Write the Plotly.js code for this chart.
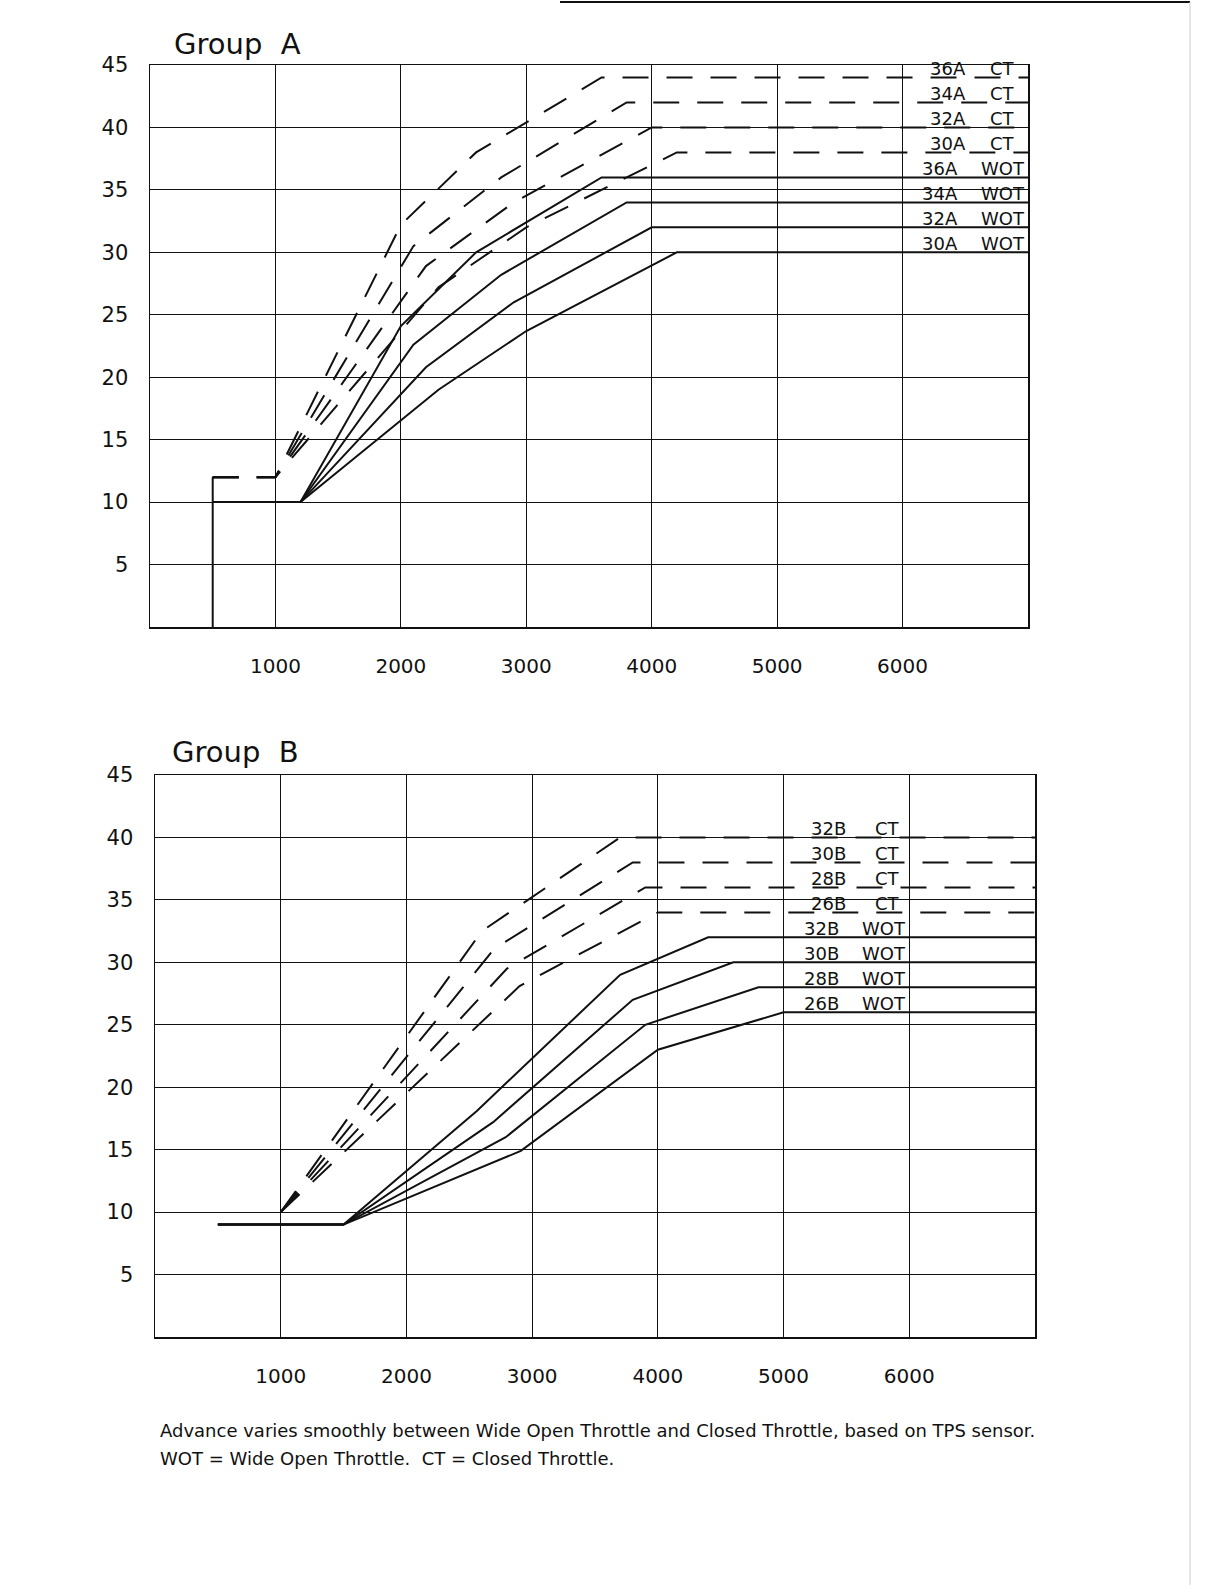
<!DOCTYPE html>
<html>
<head>
<meta charset="utf-8">
<script src="https://cdn.plot.ly/plotly-3.0.1.min.js"></script>
<style>
  html, body { margin: 0; padding: 0; background: #fff; }
  #chart { width: 1225px; height: 1585px; }
</style>
</head>
<body>
<div id="chart"></div>
<script>
  // Spark advance curves (rpm vs degrees).
  // CT = closed throttle (dashed), WOT = wide open throttle (solid).

  // ---- Group A ----
  const baseARpm = [500, 500];
  const baseADeg = [0, 12];

  const a36ctRpm = [500, 1000, 2000, 2600, 3600, 7000];
  const a36ctDeg = [12, 12, 32.2, 38, 44, 44];
  const a34ctRpm = [500, 1000, 2100, 2800, 3800, 7000];
  const a34ctDeg = [12, 12, 30.5, 36, 42, 42];
  const a32ctRpm = [500, 1000, 2200, 2900, 4000, 7000];
  const a32ctDeg = [12, 12, 28.9, 34, 40, 40];
  const a30ctRpm = [500, 1000, 2300, 3000, 4200, 7000];
  const a30ctDeg = [12, 12, 27.2, 32, 38, 38];

  const a36wotRpm = [500, 1200, 2000, 2600, 3600, 7000];
  const a36wotDeg = [10, 10, 24.1, 30, 36, 36];
  const a34wotRpm = [500, 1200, 2100, 2800, 3800, 7000];
  const a34wotDeg = [10, 10, 22.6, 28.2, 34, 34];
  const a32wotRpm = [500, 1200, 2200, 2900, 4000, 7000];
  const a32wotDeg = [10, 10, 20.8, 26, 32, 32];
  const a30wotRpm = [500, 1200, 2300, 3000, 4200, 7000];
  const a30wotDeg = [10, 10, 19, 23.7, 30, 30];

  // ---- Group B ----
  const b32ctRpm = [1000, 2600, 3700, 7000];
  const b32ctDeg = [10, 32.5, 40, 40];
  const b30ctRpm = [1000, 2700, 3800, 7000];
  const b30ctDeg = [10, 31.1, 38, 38];
  const b28ctRpm = [1000, 2800, 3900, 7000];
  const b28ctDeg = [10, 29.5, 36, 36];
  const b26ctRpm = [1000, 2900, 4000, 7000];
  const b26ctDeg = [10, 28.1, 34, 34];

  const b32wotRpm = [500, 1500, 2560, 3700, 4400, 7000];
  const b32wotDeg = [9, 9, 18.1, 29, 32, 32];
  const b30wotRpm = [500, 1500, 2690, 3800, 4600, 7000];
  const b30wotDeg = [9, 9, 17.2, 27, 30, 30];
  const b28wotRpm = [500, 1500, 2790, 3900, 4800, 7000];
  const b28wotDeg = [9, 9, 16, 25, 28, 28];
  const b26wotRpm = [500, 1500, 2910, 4000, 5000, 7000];
  const b26wotDeg = [9, 9, 14.9, 23, 26, 26];

  const rpmTicks = [1000, 2000, 3000, 4000, 5000, 6000];
  const degTicks = [5, 10, 15, 20, 25, 30, 35, 40, 45];

  const labelsA = ["36A", "34A", "32A", "30A"];
  const labelsB = ["32B", "30B", "28B", "26B"];

  const FONT = "DejaVu Sans, Liberation Sans, sans-serif";
  const INK = "#111";
  const DASH = "26px,18px";
  const PAGE_W = 1225;
  const PAGE_H = 1585;

  function line(x, y, axes, dashed) {
    return {
      x: x, y: y,
      xaxis: axes[0], yaxis: axes[1],
      type: "scatter", mode: "lines",
      line: { color: INK, width: 2, dash: dashed ? DASH : "solid" },
      hoverinfo: "skip",
    };
  }

  const A = ["x", "y"];
  const B = ["x2", "y2"];

  const traces = [
    line(baseARpm, baseADeg, A, false),
    line(a36ctRpm, a36ctDeg, A, true),
    line(a34ctRpm, a34ctDeg, A, true),
    line(a32ctRpm, a32ctDeg, A, true),
    line(a30ctRpm, a30ctDeg, A, true),
    line(a36wotRpm, a36wotDeg, A, false),
    line(a34wotRpm, a34wotDeg, A, false),
    line(a32wotRpm, a32wotDeg, A, false),
    line(a30wotRpm, a30wotDeg, A, false),
    line(b32ctRpm, b32ctDeg, B, true),
    line(b30ctRpm, b30ctDeg, B, true),
    line(b28ctRpm, b28ctDeg, B, true),
    line(b26ctRpm, b26ctDeg, B, true),
    line(b32wotRpm, b32wotDeg, B, false),
    line(b30wotRpm, b30wotDeg, B, false),
    line(b28wotRpm, b28wotDeg, B, false),
    line(b26wotRpm, b26wotDeg, B, false),
  ];

  // pixel box on the page -> paper domain
  function xDom(left, right) { return [left / PAGE_W, right / PAGE_W]; }
  function yDom(top, bottom) { return [1 - bottom / PAGE_H, 1 - top / PAGE_H]; }

  function rpmAxis(domain, anchor) {
    return {
      domain: domain, anchor: anchor,
      range: [0, 7000], fixedrange: true,
      tickvals: rpmTicks, ticktext: rpmTicks.map(String),
      ticks: "", ticklabelstandoff: 20,
      tickfont: { family: FONT, size: 20, color: INK },
      showgrid: true, gridcolor: INK, gridwidth: 1,
      showline: true, mirror: true, linecolor: INK, linewidth: 1.5,
      zeroline: false,
    };
  }

  function degAxis(domain, anchor) {
    return {
      domain: domain, anchor: anchor,
      range: [0, 45], fixedrange: true,
      tickvals: degTicks, ticktext: degTicks.map(String),
      ticks: "", ticklabelstandoff: 16,
      tickfont: { family: FONT, size: 21, color: INK },
      showgrid: true, gridcolor: INK, gridwidth: 1,
      showline: true, mirror: true, linecolor: INK, linewidth: 1.5,
      zeroline: false,
    };
  }

  // Curve names sit on top of their flat lines, in the right-hand column.
  function curveLabels(names, ctSeries, wotSeries, ax, numX, ctX, wotX) {
    const out = [];
    function add(text, x, y) {
      out.push({
        text: text, x: x, y: y, xref: ax[0], yref: ax[1],
        xanchor: "center", yanchor: "bottom", yshift: -4,
        showarrow: false,
        font: { family: FONT, size: 18, color: INK },
      });
    }
    names.forEach(function (name, i) {
      const ct = ctSeries[i][ctSeries[i].length - 1];
      const wot = wotSeries[i][wotSeries[i].length - 1];
      add(name, numX + 60, ct);
      add("CT", ctX, ct);
      add(name, numX, wot);
      add("WOT", wotX, wot);
    });
    return out;
  }

  const annotations = []
    .concat(curveLabels(labelsA,
      [a36ctDeg, a34ctDeg, a32ctDeg, a30ctDeg],
      [a36wotDeg, a34wotDeg, a32wotDeg, a30wotDeg],
      A, 6300, 6800, 6800))
    .concat(curveLabels(labelsB,
      [b32ctDeg, b30ctDeg, b28ctDeg, b26ctDeg],
      [b32wotDeg, b30wotDeg, b28wotDeg, b26wotDeg],
      B, 5300, 5830, 5800));

  function pageText(text, px, py, size, anchor) {
    return {
      text: text, x: px / PAGE_W, y: 1 - py / PAGE_H,
      xref: "paper", yref: "paper",
      xanchor: anchor || "left", yanchor: "middle",
      showarrow: false,
      font: { family: FONT, size: size, color: INK },
    };
  }

  annotations.push(pageText("Group  A", 172, 44, 29));
  annotations.push(pageText("Group  B", 170, 752, 29));
  annotations.push(pageText(
    "Advance varies smoothly between Wide Open Throttle and Closed Throttle, based on TPS sensor.",
    158, 1430, 18));
  annotations.push(pageText(
    "WOT = Wide Open Throttle.  CT = Closed Throttle.", 158, 1458, 18));

  const layout = {
    width: PAGE_W, height: PAGE_H,
    margin: { l: 0, r: 0, t: 0, b: 0 },
    paper_bgcolor: "#fff", plot_bgcolor: "#fff",
    showlegend: false,
    xaxis: rpmAxis(xDom(150, 1028), "y"),
    yaxis: degAxis(yDom(65, 627), "x"),
    xaxis2: rpmAxis(xDom(155, 1035), "y2"),
    yaxis2: degAxis(yDom(775, 1337), "x2"),
    annotations: annotations,
    shapes: [
      // page edge left on the scan
      { type: "line", xref: "paper", yref: "paper",
        x0: 560 / PAGE_W, x1: 1190 / PAGE_W, y0: 1 - 2 / PAGE_H, y1: 1 - 2 / PAGE_H,
        line: { color: INK, width: 2 } },
      { type: "line", xref: "paper", yref: "paper",
        x0: 1190 / PAGE_W, x1: 1190 / PAGE_W, y0: 0, y1: 1 - 2 / PAGE_H,
        line: { color: "#ccc", width: 1 } },
    ],
  };

  Plotly.newPlot("chart", traces, layout, { displayModeBar: false, staticPlot: true });
</script>
</body>
</html>
